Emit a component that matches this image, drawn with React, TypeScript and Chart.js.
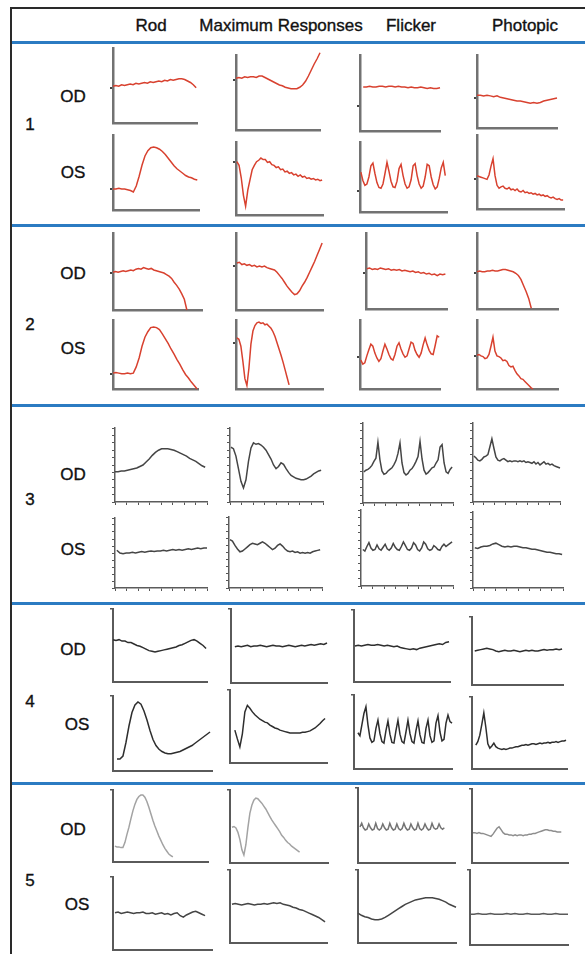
import React, { useEffect, useRef } from "react";
import { Chart, registerables } from "chart.js";

Chart.register(...registerables);

// ---------- labels ----------
const columns = ["Rod", "Maximum Responses", "Flicker", "Photopic"];
const patients = ["1", "2", "3", "4", "5"];
const eyes = ["OD", "OS"];

// ---------- waveform values (0 = x axis, 100 = top of y axis) ----------
const rod1OD = [49,50,49,51,50,51,52,51,53,52,53,54,53,55,54,55,56,55,57,56,58,57,58,59,59,58,56,54,51,47];
const max1OD = [69,70,69,71,70,71,71,70,72,72,70,68,66,64,62,60,59,57,56,55,55,55,57,60,65,72,80,88,95,103];
const flk1OD = [58,58,59,58,58,59,59,58,59,59,58,59,58,58,57,58,57,57,58,57,56,57,56,56,57];
const pho1OD = [45,45,44,45,44,43,44,42,41,40,39,38,37,37,36,35,34,35,34,35,37,38,39,40,41];
const rod1OS = [28,28,29,28,28,27,26,24,32,45,60,72,79,83,84,83,81,78,74,69,64,59,55,52,49,46,44,43,41,40];
const max1OS = [73,68,51,27,12,34,48,62,68,73,75,78,76,76,72,73,69,68,65,66,62,63,59,60,57,58,55,56,53,55,52,53,50,51,49,50,48,49,47,48];
const flk1OS = [57,45,38,40,50,66,70,55,42,35,34,40,55,71,58,44,36,35,44,62,68,52,40,34,36,46,66,69,52,40,34,37,50,68,66,50,39,33,36,48,63,71,52];
const pho1OS = [45,44,43,42,41,40,46,58,68,45,32,28,30,31,28,27,29,26,27,25,27,24,23,25,22,23,21,22,20,21,19,20,18,19,17,18,16,15,16,14,13,14,12,12];

const rod2OD = [49,50,49,50,51,50,51,52,51,53,54,53,55,54,53,54,52,51,50,49,48,46,44,41,36,32,27,21,14,0];
const max2OD = [61,62,59,60,58,59,57,58,56,57,56,57,55,54,53,52,49,45,41,36,31,27,23,20,21,25,31,36,42,49,56,63,71,79,87];
const flk2OD = [53,54,52,53,52,54,53,52,53,51,52,51,52,50,51,50,49,50,48,49,47,48,46,47,45,46,44,46,45,46];
const pho2OD = [49,50,49,49,50,50,51,50,50,51,52,52,51,50,49,47,44,39,31,23,14,1];
const rod2OS = [23,24,23,22,22,23,22,23,32,45,62,75,83,89,90,89,86,80,73,66,58,51,43,36,28,21,16,10,5,0];
const max2OS = [74,72,62,40,15,5,30,65,84,92,96,97,95,96,93,94,91,88,83,76,67,58,49,39,28,17,6];
const flk2OS = [42,36,38,48,57,65,62,52,45,40,44,55,65,58,50,44,42,50,62,67,58,51,46,48,58,68,66,56,50,46,52,64,74,64,56,51,50,63,77,75];
const pho2OS = [49,50,48,47,44,45,50,62,75,55,48,47,45,41,42,40,34,32,33,27,22,19,15,14,11,8,5,2,0];

const rod3OD = [41,41,42,42,43,44,45,46,48,50,54,58,63,67,70,72,72,72,71,70,68,66,64,62,59,57,55,52,49,47];
const max3OD = [74,72,62,45,28,19,30,55,73,80,78,79,77,74,70,64,58,50,45,48,53,51,45,40,36,34,32,31,30,30,31,33,35,38,40,42,43];
const flk3OD = [39,41,42,44,47,52,56,76,54,40,36,37,40,42,44,48,53,62,75,50,38,35,37,41,43,47,52,58,77,55,41,36,38,41,44,45,50,54,70,73,50,39,37,42,45];
const pho3OD = [58,56,53,52,54,57,58,60,70,80,68,57,53,52,54,55,53,51,52,51,52,52,51,52,51,52,50,51,50,49,51,48,50,47,49,51,48,49,47,48,46,45,44,43];
const rod3OS = [54,50,49,50,50,51,50,51,52,51,52,53,52,53,53,54,53,54,55,54,55,54,55,56,55,56,57,56,57,57];
const max3OS = [68,66,60,55,51,52,55,58,61,63,62,61,63,65,63,60,57,54,56,60,62,59,55,52,51,52,50,51,49,50,49,50,49,51,52,53,54];
const flk3OS = [48,46,52,57,50,47,48,54,49,47,51,55,49,47,50,56,51,48,47,52,58,53,48,47,50,57,54,48,46,50,58,55,49,47,48,53,51,48,47,52,55,52,54,56,58];
const pho3OS = [53,52,54,55,55,56,58,59,57,55,54,55,54,55,55,54,53,53,52,51,51,50,49,48,47,47,46,45,45,44];

const rod4OD = [58,57,58,56,56,54,54,52,50,49,47,45,43,42,41,42,43,44,45,46,47,48,50,51,53,55,57,58,56,53,50,46];
const max4OD = [49,50,49,50,51,49,50,50,51,50,49,50,51,50,50,49,50,51,50,49,50,51,50,51,52,51,52,53,52,54];
const flk4OD = [50,51,50,51,52,51,51,52,51,50,51,50,49,50,48,47,46,45,46,45,47,48,49,50,51,52,53,52,55,56];
const pho4OD = [50,51,52,53,54,53,52,50,49,50,51,50,50,51,50,49,50,51,50,51,50,50,51,52,51,52,52,53,52,53];
const rod4OS = [16,16,20,38,60,78,88,92,89,80,68,54,42,34,29,26,24,23,23,24,25,26,28,30,32,34,37,40,43,46,49,52];
const max4OS = [45,33,22,40,70,79,75,70,66,63,60,58,56,55,52,50,48,47,45,44,43,42,41,41,41,41,41,42,42,43,44,46,48,51,54,58,61];
const flk4OS = [49,45,60,75,84,60,42,36,38,55,66,48,37,35,52,65,47,36,35,52,66,47,37,35,50,66,48,37,35,52,65,46,36,35,55,66,45,36,38,62,72,50,38,40,62,73,64,62];
const pho4OS = [33,38,47,62,78,58,35,29,32,36,31,29,28,27,28,27,28,29,29,30,31,31,32,33,33,34,33,34,35,35,34,35,36,35,36,36,37,36,37,37,38,37,38,39,39,40];

const rod5OD = [22,21,21,20,20,27,38,48,60,71,80,87,91,93,93,90,84,76,67,58,50,43,36,30,24,19,15,11,9,7];
const max5OD = [49,50,48,42,32,18,11,25,48,68,79,86,89,88,85,82,78,74,69,64,59,55,51,47,43,38,35,31,28,26,23,21,19,17,15];
const flk5OD = [48,53,47,44,45,52,47,44,45,53,46,44,46,52,47,44,45,53,47,44,45,52,46,44,46,53,47,44,45,52,47,44,45,53,46,44,46,52,47,44,45,53,47,45,46,52,47,45,47];
const pho5OD = [41,41,40,41,40,40,39,38,37,36,39,43,47,49,45,41,39,39,38,38,37,38,37,38,38,37,38,38,39,39,40,40,41,42,43,44,45,45,44,44,43,43,42,42,42];
const rod5OS = [51,52,50,51,52,51,50,51,51,52,50,50,51,49,50,51,49,50,48,50,51,47,45,48,50,52,53,51,49,47];
const max5OS = [53,54,53,52,53,54,53,52,53,53,54,53,54,55,54,55,53,52,51,49,48,46,45,43,41,39,37,35,32,29];
const flk5OS = [41,38,36,35,33,32,32,33,35,38,41,44,47,50,53,55,57,59,60,61,62,62,62,61,60,58,56,53,51,49];
const pho5OS = [41,41,42,41,41,42,41,41,41,42,41,42,41,41,42,41,41,41,42,41,41,42,41,41,41];

// baseline marker levels on the y axes of patients 1 and 2
const marks1 = [47, 67, 33, 41, 28, 73, 30, 41];
const marks2 = [48, 57, 47, 47, 22, 67, 46, 48];

// ---------- layout ----------
type Spec = {
  v: number[];
  span: [number, number];
  box: [number, number, number, number]; // left, top, bottom, right
  g: number;
  color: string;
  mark?: number;
};

const RED = "#d8412f";
const G3C = "#454545";
const G4C = "#2e2e2e";

const specs: Spec[] = [
  { v: rod1OD, span: [0, 99], box: [113, 48, 123, 197], g: 1, color: RED, mark: marks1[0] },
  { v: max1OD, span: [0, 100], box: [236, 55, 130, 320], g: 1, color: RED, mark: marks1[1] },
  { v: flk1OD, span: [4, 100], box: [360, 55, 131, 440], g: 1, color: RED, mark: marks1[2] },
  { v: pho1OD, span: [0, 100], box: [477, 55, 128, 557], g: 1, color: RED, mark: marks1[3] },
  { v: rod1OS, span: [0, 98], box: [113, 135, 210, 199], g: 1, color: RED, mark: marks1[4] },
  { v: max1OS, span: [1, 99], box: [236, 142, 215, 323], g: 1, color: RED, mark: marks1[5] },
  { v: flk1OS, span: [1, 98], box: [360, 142, 212, 447], g: 1, color: RED, mark: marks1[6] },
  { v: pho1OS, span: [0, 99], box: [477, 135, 209, 564], g: 1, color: RED, mark: marks1[7] },

  { v: rod2OD, span: [0, 83], box: [113, 233, 310, 202], g: 2, color: RED, mark: marks2[0] },
  { v: max2OD, span: [1, 99], box: [236, 233, 310, 323], g: 2, color: RED, mark: marks2[1] },
  { v: flk2OD, span: [1, 98], box: [366, 233, 309, 447], g: 2, color: RED, mark: marks2[2] },
  { v: pho2OD, span: [0, 67], box: [477, 233, 309, 558], g: 2, color: RED, mark: marks2[3] },
  { v: rod2OS, span: [0, 99], box: [113, 320, 389, 198], g: 2, color: RED, mark: marks2[4] },
  { v: max2OS, span: [1, 61], box: [236, 320, 389, 323], g: 2, color: RED, mark: marks2[5] },
  { v: flk2OS, span: [1, 99], box: [360, 320, 389, 440], g: 2, color: RED, mark: marks2[6] },
  { v: pho2OS, span: [0, 69], box: [477, 320, 389, 558], g: 2, color: RED, mark: marks2[7] },

  { v: rod3OD, span: [0, 98], box: [115, 428, 502, 207], g: 3, color: G3C },
  { v: max3OD, span: [1, 98], box: [230, 428, 502, 323], g: 3, color: G3C },
  { v: flk3OD, span: [1, 99], box: [363, 423, 503, 453], g: 3, color: G3C },
  { v: pho3OD, span: [1, 100], box: [473, 423, 502, 560], g: 3, color: G3C },
  { v: rod3OS, span: [2, 100], box: [115, 518, 588, 207], g: 3, color: G3C },
  { v: max3OS, span: [1, 98], box: [229, 517, 588, 322], g: 3, color: G3C },
  { v: flk3OS, span: [2, 99], box: [361, 510, 586, 453], g: 3, color: G3C },
  { v: pho3OS, span: [2, 99], box: [473, 512, 588, 563], g: 3, color: G3C },

  { v: rod4OD, span: [0, 99], box: [113, 609, 682, 207], g: 4, color: G4C },
  { v: max4OD, span: [4, 100], box: [231, 609, 683, 327], g: 4, color: G4C },
  { v: flk4OD, span: [1, 99], box: [354, 610, 682, 450], g: 4, color: G4C },
  { v: pho4OD, span: [3, 99], box: [472, 617, 685, 563], g: 4, color: G4C },
  { v: rod4OS, span: [4, 98], box: [113, 696, 771, 212], g: 4, color: G4C },
  { v: max4OS, span: [5, 98], box: [230, 690, 763, 327], g: 4, color: G4C },
  { v: flk4OS, span: [4, 100], box: [354, 695, 769, 452], g: 4, color: G4C },
  { v: pho4OS, span: [4, 99], box: [472, 697, 769, 567], g: 4, color: G4C },

  { v: rod5OD, span: [2, 63], box: [113, 790, 862, 208], g: 5, color: "#a3a3a3" },
  { v: max5OD, span: [2, 71], box: [230, 790, 863, 328], g: 5, color: "#a3a3a3" },
  { v: flk5OD, span: [2, 89], box: [358, 788, 863, 455], g: 5, color: "#747474" },
  { v: pho5OD, span: [1, 93], box: [472, 789, 863, 568], g: 5, color: "#8e8e8e" },
  { v: rod5OS, span: [2, 93], box: [113, 877, 950, 212], g: 5, color: "#454545" },
  { v: max5OS, span: [2, 98], box: [230, 870, 943, 327], g: 5, color: "#454545" },
  { v: flk5OS, span: [0, 100], box: [358, 870, 943, 456], g: 5, color: "#454545" },
  { v: pho5OS, span: [0, 100], box: [470, 870, 945, 568], g: 5, color: "#5a5a5a" },
];

const headerX = [151, 281, 411, 525];
const headerY = 26;
const groupLabelY = [125, 325, 500, 702, 881];
const eyeLabelY = [[97, 173], [274, 349], [475, 550], [650, 725], [830, 905]];
const eyeLabelX = [[73, 73], [73, 73], [73, 73], [73, 77], [73, 77]];
const blueY = [42, 225, 405, 603, 783];

function styleFor(g: number) {
  if (g <= 2) return { axis: "#727272", axisW: 2.5, tick: "#444", tickW: 2 };
  if (g === 3) return { axis: "#5c5c5c", axisW: 1.5, tick: "#555", tickW: 1 };
  return { axis: "#5a5a5a", axisW: 2, tick: "#555", tickW: 1.5 };
}

function Panel({ s }: { s: Spec }) {
  const ref = useRef<HTMLCanvasElement>(null);
  const [l, t, b, r] = s.box;
  const st = styleFor(s.g);
  const PL = 2, PT = 4, PR = 3, PB = 2;
  const tlY = 3;
  const tlX = s.g === 3 ? 3 : 0;
  const left = l - PL - tlY;
  const top = t - PT;
  const w = r - l + PL + tlY + PR;
  const h = b - t + PT + PB + tlX;

  useEffect(() => {
    const n = s.v.length;
    const pts = s.v.map((y, i) => ({ x: s.span[0] + ((s.span[1] - s.span[0]) * i) / (n - 1), y }));
    const chart = new Chart(ref.current as HTMLCanvasElement, {
      type: "line",
      data: {
        datasets: [
          {
            data: pts,
            borderColor: s.color,
            borderWidth: 1.5,
            pointRadius: 0,
            tension: 0,
            fill: false,
            clip: 4,
          } as any,
        ],
      },
      options: {
        animation: false,
        responsive: false,
        devicePixelRatio: 1,
        events: [],
        layout: { padding: { left: PL, top: PT, right: PR, bottom: PB } },
        plugins: { legend: { display: false }, tooltip: { enabled: false } },
        scales: {
          x: {
            type: "linear",
            min: 0,
            max: 100,
            ticks: { display: false, stepSize: 12.5 },
            grid: {
              display: s.g === 3,
              drawOnChartArea: false,
              drawTicks: s.g === 3,
              tickLength: tlX,
              color: st.tick,
              lineWidth: 1,
            },
            border: { display: true, color: st.axis, width: st.axisW },
          },
          y: {
            type: "linear",
            min: 0,
            max: 100,
            ticks: { display: false, stepSize: 10 },
            afterBuildTicks: (sc: any) => {
              if (s.g !== 3) sc.ticks = [{ value: s.g <= 2 ? (s.mark as number) : 100 }];
            },
            grid: {
              display: true,
              drawOnChartArea: false,
              drawTicks: true,
              tickLength: tlY,
              color: st.tick,
              lineWidth: st.tickW,
            },
            border: { display: true, color: st.axis, width: st.axisW },
          },
        },
      } as any,
    });
    return () => chart.destroy();
  }, []);

  return (
    <canvas
      ref={ref}
      width={w}
      height={h}
      style={{ position: "absolute", left, top, width: w, height: h }}
    />
  );
}

function Txt({ x, y, children }: { x: number; y: number; children: React.ReactNode }) {
  return (
    <div
      style={{
        position: "absolute",
        left: x,
        top: y,
        transform: "translate(-50%, -50%)",
        fontSize: 17,
        lineHeight: "20px",
        whiteSpace: "nowrap",
        color: "#111",
        WebkitTextStroke: "0.35px #111",
      }}
    >
      {children}
    </div>
  );
}

export default function App() {
  return (
    <div
      style={{
        position: "fixed",
        left: 0,
        top: 0,
        width: 585,
        height: 954,
        background: "#fff",
        overflow: "hidden",
        fontFamily: "'Liberation Sans', Arial, sans-serif",
      }}
    >
      {/* frame */}
      <div style={{ position: "absolute", left: 10, top: 7, width: 2, height: 947, background: "#2a2a2a" }} />
      <div style={{ position: "absolute", left: 10, top: 7, width: 575, height: 2, background: "#2a2a2a" }} />
      {blueY.map((y, i) => (
        <div
          key={"b" + i}
          style={{ position: "absolute", left: 12, top: y - 1.5, width: 573, height: 3, background: "#2b7bc2" }}
        />
      ))}
      {columns.map((c, i) => (
        <Txt key={"h" + i} x={headerX[i]} y={headerY}>{c}</Txt>
      ))}
      {patients.map((p, i) => (
        <React.Fragment key={"p" + i}>
          <Txt x={30} y={groupLabelY[i]}>{p}</Txt>
          {eyes.map((e, j) => (
            <Txt key={e} x={eyeLabelX[i][j]} y={eyeLabelY[i][j]}>{e}</Txt>
          ))}
        </React.Fragment>
      ))}
      {specs.map((s, i) => (
        <Panel key={"c" + i} s={s} />
      ))}
    </div>
  );
}
